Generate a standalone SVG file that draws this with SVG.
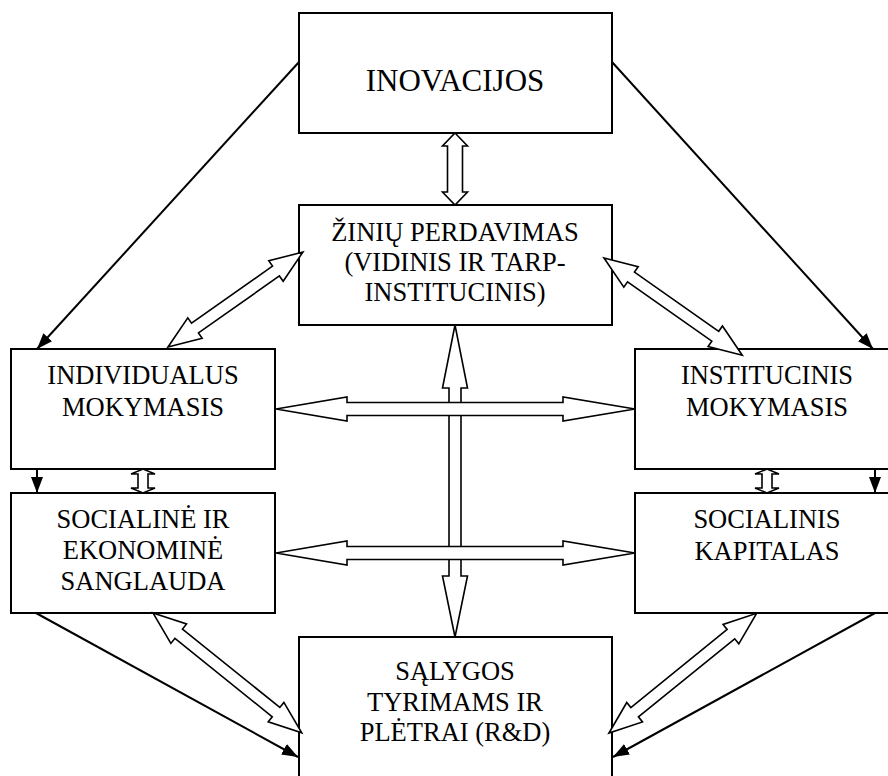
<svg xmlns="http://www.w3.org/2000/svg" width="888" height="776" viewBox="0 0 888 776">
  <style>
    .box { fill: #ffffff; stroke: #000000; stroke-width: 2; }
    .lbl { font-family: "Liberation Serif", "Times New Roman", serif; font-size: 26.5px; fill: #000000; text-anchor: middle; }
    .big { font-size: 31px; }
    .line { fill: none; stroke: #000000; stroke-width: 2; marker-end: url(#solidHead); }
    .dbl { fill: #ffffff; stroke: #000000; stroke-width: 1.6; stroke-linejoin: miter; }
  </style>
  <defs>
    <marker id="solidHead" viewBox="0 0 16 12" refX="16" refY="6" markerWidth="16" markerHeight="12" markerUnits="userSpaceOnUse" orient="auto">
      <path d="M0,0 L16,6 L0,12 Z" fill="#000000"/>
    </marker>
  </defs>

  <!-- nodes -->
  <g id="inovacijos">
    <rect class="box" x="299" y="13" width="313" height="120"/>
    <text class="lbl big" x="455" y="91">INOVACIJOS</text>
  </g>
  <g id="ziniu-perdavimas">
    <rect class="box" x="299" y="205" width="313" height="120"/>
    <text class="lbl" x="455" y="241">ŽINIŲ PERDAVIMAS</text>
    <text class="lbl" x="455" y="271">(VIDINIS IR TARP-</text>
    <text class="lbl" x="455" y="301">INSTITUCINIS)</text>
  </g>
  <g id="individualus-mokymasis">
    <rect class="box" x="11" y="349" width="264" height="120"/>
    <text class="lbl" x="143" y="384">INDIVIDUALUS</text>
    <text class="lbl" x="143" y="416">MOKYMASIS</text>
  </g>
  <g id="institucinis-mokymasis">
    <rect class="box" x="635" y="349" width="264" height="120"/>
    <text class="lbl" x="767" y="384">INSTITUCINIS</text>
    <text class="lbl" x="767" y="416">MOKYMASIS</text>
  </g>
  <g id="sanglauda">
    <rect class="box" x="11" y="493" width="264" height="120"/>
    <text class="lbl" x="143" y="528">SOCIALINĖ IR</text>
    <text class="lbl" x="143" y="559">EKONOMINĖ</text>
    <text class="lbl" x="143" y="590">SANGLAUDA</text>
  </g>
  <g id="socialinis-kapitalas">
    <rect class="box" x="635" y="493" width="264" height="120"/>
    <text class="lbl" x="767" y="528">SOCIALINIS</text>
    <text class="lbl" x="767" y="560">KAPITALAS</text>
  </g>
  <g id="salygos-rd">
    <rect class="box" x="299" y="637" width="313" height="150"/>
    <text class="lbl" x="455" y="680">SĄLYGOS</text>
    <text class="lbl" x="455" y="711">TYRIMAMS IR</text>
    <text class="lbl" x="455" y="741">PLĖTRAI (R&amp;D)</text>
  </g>

  <!-- connectors -->
  <g id="connectors">
    <!-- solid arrows -->
    <line class="line" x1="299" y1="62" x2="37" y2="349"/>
    <line class="line" x1="612" y1="62" x2="873" y2="349"/>
    <line class="line" x1="37" y1="469" x2="37" y2="493"/>
    <line class="line" x1="875" y1="469" x2="875" y2="493"/>
    <line class="line" x1="36" y1="613" x2="298" y2="757"/>
    <line class="line" x1="875" y1="613" x2="613" y2="757"/>

    <!-- hollow two-way arrows -->
    <polygon class="dbl" transform="translate(455,133) rotate(90)" points="0,0 13,-12.5 13,-7.5 59,-7.5 59,-12.5 72,0 59,12.5 59,7.5 13,7.5 13,12.5"/>
    <polygon class="dbl" transform="translate(143,469) rotate(90)" points="0,0 5,-12 5,-5 19,-5 19,-12 24,0 19,12 19,5 5,5 5,12"/>
    <polygon class="dbl" transform="translate(767,469) rotate(90)" points="0,0 5,-12 5,-5 19,-5 19,-12 24,0 19,12 19,5 5,5 5,12"/>
    <polygon class="dbl" transform="translate(455,325) rotate(90)" points="0,0 63,-12.5 63,-6 251,-6 251,-12.5 312,0 251,12.5 251,6 63,6 63,12.5"/>
    <polygon class="dbl" transform="translate(276,409)" points="0,0 71,-12 71,-6.5 287,-6.5 287,-12 359,0 287,12 287,6.5 71,6.5 71,12"/>
    <polygon class="dbl" transform="translate(276,553)" points="0,0 71,-12 71,-6.5 287,-6.5 287,-12 359,0 287,12 287,6.5 71,6.5 71,12"/>
    <polygon class="dbl" transform="translate(168,347) rotate(-35.13)" points="0,0 33,-12.5 33,-6 132,-6 132,-12.5 165,0 132,12.5 132,6 33,6 33,12.5"/>
    <polygon class="dbl" transform="translate(604,258) rotate(35.1)" points="0,0 33,-12.5 33,-6 136,-6 136,-12.5 169,0 136,12.5 136,6 33,6 33,12.5"/>
    <polygon class="dbl" transform="translate(153,613) rotate(38.85)" points="0,0 33,-12.5 33,-6 158,-6 158,-12.5 191,0 158,12.5 158,6 33,6 33,12.5"/>
    <polygon class="dbl" transform="translate(609,733) rotate(-39.04)" points="0,0 33,-12.5 33,-6 157,-6 157,-12.5 190,0 157,12.5 157,6 33,6 33,12.5"/>
  </g>
</svg>
